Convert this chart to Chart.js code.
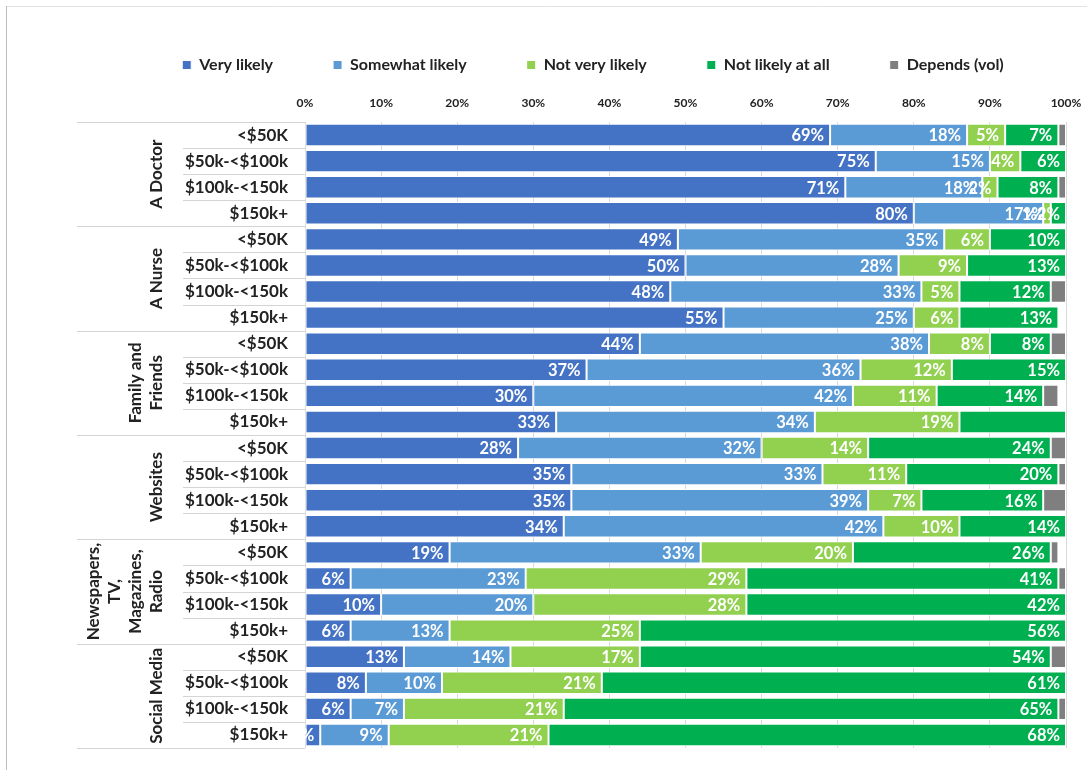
<!DOCTYPE html>
<html>
<head>
<meta charset="utf-8">
<script src="https://cdn.jsdelivr.net/npm/chart.js@4/dist/chart.umd.min.js"></script>
<style>
  html, body { margin: 0; padding: 0; background: #fff; }
  #wrap { width: 1087px; height: 770px; position: relative; }
</style>
</head>
<body>
<div id="wrap"><canvas id="chart" width="1087" height="770"></canvas></div>
<script>
// Data
const incomes = ['<$50K', '$50k-<$100k', '$100k-<150k', '$150k+'];
const groups = [
  ['A Doctor'],
  ['A Nurse'],
  ['Family and', 'Friends'],
  ['Websites'],
  ['Newspapers,', 'TV,', 'Magazines,', 'Radio'],
  ['Social Media']
];
const seriesNames = ['Very likely', 'Somewhat likely', 'Not very likely', 'Not likely at all', 'Depends (vol)'];
const seriesColors = ['#4472C4', '#5B9BD5', '#92D050', '#00B050', '#7F7F7F'];

const veryLikely     = [69, 75, 71, 80, 49, 50, 48, 55, 44, 37, 30, 33, 28, 35, 35, 34, 19, 6, 10, 6, 13, 8, 6, 2];
const somewhatLikely = [18, 15, 18, 17, 35, 28, 33, 25, 38, 36, 42, 34, 32, 33, 39, 42, 33, 23, 20, 13, 14, 10, 7, 9];
const notVeryLikely  = [5, 4, 2, 1, 6, 9, 5, 6, 8, 12, 11, 19, 14, 11, 7, 10, 20, 29, 28, 25, 17, 21, 21, 21];
const notLikelyAtAll = [7, 6, 8, 2, 10, 13, 12, 13, 8, 15, 14, 14, 24, 20, 16, 14, 26, 41, 42, 56, 54, 61, 65, 68];
const depends        = [1, 0, 1, 0, 0, 0, 2, 0, 2, 0, 2, 0, 2, 1, 3, 0, 1, 1, 0, 0, 2, 0, 1, 0];

const xTicks = [0, 10, 20, 30, 40, 50, 60, 70, 80, 90, 100];
// label missing in the original (Family and Friends, $150k+, Not likely at all)
const hiddenLabels = [[3, 11]];

const rowLabels = groups.flatMap(() => incomes);
const seriesValues = [veryLikely, somewhatLikely, notVeryLikely, notLikelyAtAll, depends];

const FONT = 'Lato, "Open Sans", sans-serif';
Chart.defaults.font.family = FONT;
Chart.defaults.font.weight = 'bold';
Chart.defaults.color = '#222';

// light frame around the picture
const framePlugin = {
  id: 'frame',
  beforeDraw(chart) {
    const c = chart.ctx;
    c.save();
    c.fillStyle = '#fff';
    c.fillRect(0, 0, chart.width, chart.height);
    c.strokeStyle = '#e3e3e3';
    c.lineWidth = 1;
    c.beginPath();
    c.moveTo(6, 6.5); c.lineTo(chart.width, 6.5);
    c.stroke();
    c.strokeStyle = '#bdbdbd';
    c.beginPath();
    c.moveTo(6.5, 6); c.lineTo(6.5, chart.height);
    c.stroke();
    c.restore();
  }
};

// value labels inside the bar segments
const valueLabels = {
  id: 'valueLabels',
  afterDatasetsDraw(chart) {
    const c = chart.ctx;
    const area = chart.chartArea;
    c.save();
    c.beginPath();
    c.rect(area.left, area.top, area.right - area.left, area.bottom - area.top);
    c.clip();
    c.fillStyle = '#fff';
    c.font = 'bold 16.5px ' + FONT;
    c.textAlign = 'right';
    c.textBaseline = 'middle';
    for (let d = 0; d < 4; d++) {
      const meta = chart.getDatasetMeta(d);
      meta.data.forEach((bar, i) => {
        const v = seriesValues[d][i];
        if (!v) return;
        if (hiddenLabels.some(h => h[0] === d && h[1] === i)) return;
        c.fillText(v + '%', bar.x - 6, bar.y + 1);
      });
    }
    c.restore();
  }
};

// two level category axis: separator lines and rotated group names
const groupAxis = {
  id: 'groupAxis',
  afterDraw(chart) {
    const c = chart.ctx;
    const y = chart.scales.y;
    const area = chart.chartArea;
    const n = rowLabels.length;
    const step = (area.bottom - area.top) / n;
    c.save();
    c.strokeStyle = '#d4d4d4';
    c.lineWidth = 1;
    for (let i = 0; i <= n; i++) {
      const py = Math.round(i < n ? y.getPixelForValue(i) - step / 2 : area.bottom) + 0.5;
      const x0 = (i % incomes.length === 0) ? 77 : 183;
      c.beginPath();
      c.moveTo(x0, py);
      c.lineTo(area.left, py);
      c.stroke();
    }
    c.fillStyle = '#222';
    c.font = 'bold 17px ' + FONT;
    c.textAlign = 'center';
    c.textBaseline = 'middle';
    groups.forEach((lines, g) => {
      const first = y.getPixelForValue(g * incomes.length);
      const last = y.getPixelForValue(g * incomes.length + incomes.length - 1);
      const cy = (first + last) / 2;
      lines.forEach((line, k) => {
        const cx = 157 - 21 * (lines.length - 1 - k);
        c.save();
        c.translate(cx, cy);
        c.rotate(-Math.PI / 2);
        c.fillText(line, 0, 0);
        c.restore();
      });
    });
    c.restore();
  }
};

new Chart(document.getElementById('chart'), {
  type: 'bar',
  data: {
    labels: rowLabels,
    datasets: seriesNames.map((name, k) => ({
      label: name,
      data: seriesValues[k],
      backgroundColor: seriesColors[k],
      borderColor: '#fff',
      borderWidth: 1,
      borderSkipped: false,
      barPercentage: 0.86,
      categoryPercentage: 1
    }))
  },
  options: {
    indexAxis: 'y',
    responsive: false,
    animation: false,
    layout: { padding: { left: 120, right: 21, top: -3, bottom: 22 } },
    plugins: {
      tooltip: { enabled: false },
      legend: {
        position: 'top',
        labels: {
          boxWidth: 9,
          boxHeight: 9,
          padding: 60,
          color: '#222',
          font: { size: 16, weight: 'bold' }
        }
      }
    },
    scales: {
      x: {
        position: 'top',
        stacked: true,
        min: 0,
        max: 100,
        afterBuildTicks: s => { s.ticks = xTicks.map(v => ({ value: v })); },
        afterFit: s => { s.height = 39; s.paddingLeft = 0; s.paddingRight = 0; },
        border: { display: false },
        grid: { color: '#d9d9d9', drawTicks: false },
        ticks: { padding: 12, font: { size: 12, weight: 'bold' }, callback: v => v + '%' }
      },
      y: {
        stacked: true,
        afterFit: s => { s.width = 185; s.paddingTop = 0; s.paddingBottom = 0; },
        border: { display: false },
        grid: { display: false, drawTicks: false },
        ticks: { padding: 17, autoSkip: false, font: { size: 17, weight: 'bold' } }
      }
    }
  },
  plugins: [framePlugin, valueLabels, groupAxis]
});
</script>
</body>
</html>
